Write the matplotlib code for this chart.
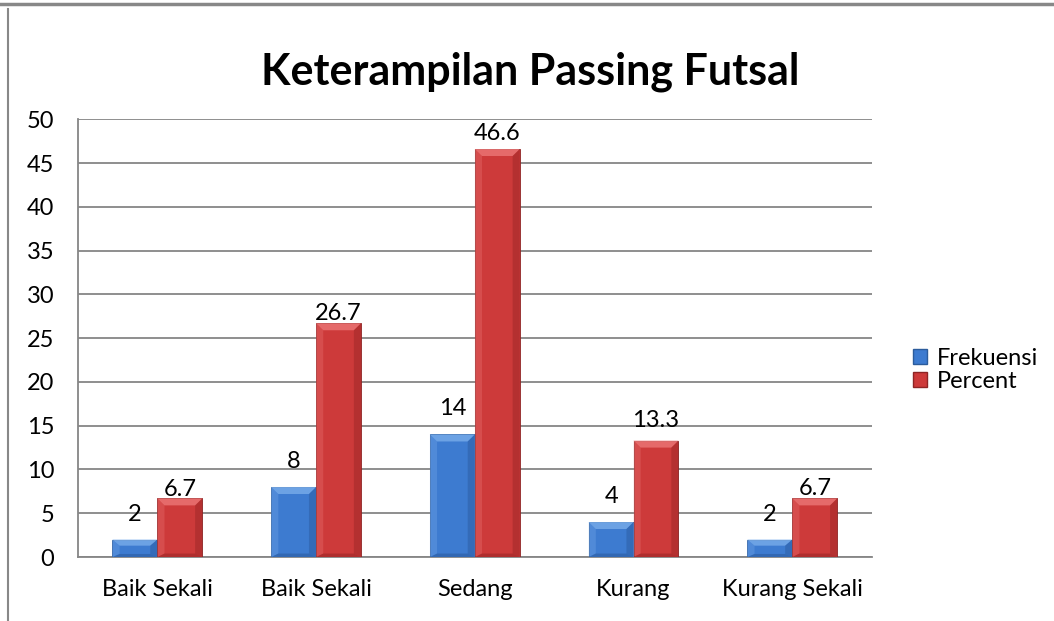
import numpy as np
import matplotlib.pyplot as plt
from matplotlib.lines import Line2D
from matplotlib.patches import Polygon, Patch

# Data
categories = ['Baik Sekali', 'Baik Sekali', 'Sedang', 'Kurang', 'Kurang Sekali']
frekuensi = [2, 8, 14, 4, 2]
percent = [6.7, 26.7, 46.6, 13.3, 6.7]

# label gaps above bars (pixels), as placed in the original
gap_f = [19, 19, 19, 19, 19]
gap_p = [2, 3, 9, 14, 3]

plt.rcParams['font.family'] = ['Lato', 'DejaVu Sans']

blue = '#3D7BD0'
red = '#CD3A3A'

fig = plt.figure(figsize=(10.54, 6.21), dpi=100)
ax = fig.add_axes([0.074, 0.103, 0.753, 0.705])

x = np.arange(len(categories))
w = 0.283

bars_f = ax.bar(x - w/2, frekuensi, w, color=blue, edgecolor='#2C5C9C', linewidth=0.6, zorder=3)
bars_p = ax.bar(x + w/2, percent, w, color=red, edgecolor='#8E2525', linewidth=0.6, zorder=3)

# bevel look: light top, lighter left, darker right/bottom
def bevel(bars, light, dark):
    for b in bars:
        bx, by, bw, bh = b.get_x(), b.get_y(), b.get_width(), b.get_height()
        dx = 0.045
        dy = min(0.8, bh * 0.35)
        top = by + bh
        ax.add_patch(Polygon([(bx, top), (bx + bw, top), (bx + bw - dx, top - dy), (bx + dx, top - dy)],
                             closed=True, facecolor=light, edgecolor='none', alpha=0.75, zorder=4))
        ax.add_patch(Polygon([(bx, top), (bx + dx, top - dy), (bx + dx, by + dy / 2), (bx, by)],
                             closed=True, facecolor=light, edgecolor='none', alpha=0.3, zorder=4))
        ax.add_patch(Polygon([(bx + bw, top), (bx + bw, by), (bx + bw - dx, by + dy / 2), (bx + bw - dx, top - dy)],
                             closed=True, facecolor=dark, edgecolor='none', alpha=0.25, zorder=4))
        ax.add_patch(Polygon([(bx, by), (bx + bw, by), (bx + bw - dx, by + dy / 2), (bx + dx, by + dy / 2)],
                             closed=True, facecolor=dark, edgecolor='none', alpha=0.3, zorder=4))

bevel(bars_f, '#7DB0EC', '#1A3F73')
bevel(bars_p, '#EE7B7B', '#6A1414')

for b, v, g in zip(bars_f, frekuensi, gap_f):
    ax.annotate(f'{v}', (b.get_x() + b.get_width()/2, v), xytext=(0, g * 0.72), textcoords='offset points',
                ha='center', va='baseline', fontsize=17, zorder=5)
for b, v, g in zip(bars_p, percent, gap_p):
    ax.annotate(f'{v}', (b.get_x() + b.get_width()/2, v), xytext=(0, g * 0.72), textcoords='offset points',
                ha='center', va='baseline', fontsize=17, zorder=5)

ax.set_ylim(0, 50)
ax.set_xlim(-0.5, 4.5)
ax.set_yticks(np.arange(0, 51, 5))
ax.set_xticks(x)
ax.set_xticklabels(categories)
ax.tick_params(axis='both', length=0, labelsize=17)
ax.tick_params(axis='y', pad=17)
ax.tick_params(axis='x', pad=16)
ax.yaxis.grid(True, color='#868686', linewidth=1.3, zorder=0)
ax.set_axisbelow(True)
for s in ['top', 'right']:
    ax.spines[s].set_visible(False)
ax.spines['left'].set_color('#868686')
ax.spines['bottom'].set_color('#868686')
ax.spines['left'].set_linewidth(1.3)
ax.spines['bottom'].set_linewidth(1.3)

fig.text(0.503, 0.884, 'Keterampilan Passing Futsal', ha='center', va='center',
         fontsize=31, fontweight='bold')

handles = [Patch(facecolor=blue, edgecolor='#2C5C9C'), Patch(facecolor=red, edgecolor='#8E2525')]
fig.legend(handles, ['Frekuensi', 'Percent'], loc='center left', bbox_to_anchor=(0.866, 0.404),
           frameon=False, fontsize=17, handlelength=0.6, handleheight=0.6, handletextpad=0.4,
           labelspacing=0.1, borderpad=0, borderaxespad=0)

# page borders
fig.add_artist(Line2D([0, 1], [0.993, 0.993], color='#888888', linewidth=2.5))
fig.add_artist(Line2D([0.008, 0.008], [0, 0.985], color='#888888', linewidth=1.5))

fig.savefig('out.png', dpi=100)
